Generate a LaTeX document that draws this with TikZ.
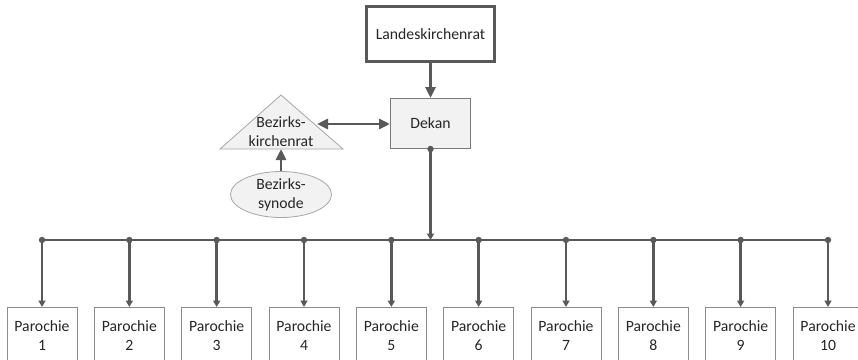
\documentclass[tikz,border=0pt]{standalone}
\usepackage{fontspec}
\setmainfont{Carlito}
\usetikzlibrary{arrows.meta,shapes.geometric}
\definecolor{linegray}{HTML}{595959}
\definecolor{shadegray}{HTML}{F2F2F2}
\definecolor{rimgray}{HTML}{A6A6A6}
\definecolor{boxgray}{HTML}{8C8C8C}
\begin{document}
\begin{tikzpicture}[
            x=1pt, y=-1pt,
            every node/.style={font=\fontsize{15.7}{19}\selectfont, align=center, inner sep=0pt, text=black!85},
            topbox/.style={draw=linegray, line width=2.4pt, fill=white, minimum width=128pt, minimum height=55pt},
            dekanbox/.style={draw=linegray!80, line width=1pt, fill=shadegray, minimum width=80pt, minimum height=50pt},
            synbox/.style={ellipse, draw=rimgray, line width=0.8pt, fill=shadegray, minimum width=101pt, minimum height=46pt},
            parbox/.style={draw=boxgray, line width=0.8pt, fill=white, minimum width=70pt, minimum height=56pt, anchor=north},
            conn/.style={draw=linegray, line width=2.9pt},
            bigarr/.style={conn, -{Triangle[length=11pt,width=10pt]}},
            smallarr/.style={conn, -{Triangle[length=6.5pt,width=7pt]}}
            ]
            \useasboundingbox (0,0) rectangle (858,359);
            \node[topbox] (landes) at (430.5,34) {Landeskirchenrat};
            \node[dekanbox] (dekan) at (430.5,123.5) {Dekan};
            \draw[draw=rimgray, line width=0.8pt, fill=shadegray] (220,149) -- (281,95) -- (343,149) -- cycle;
            \node (bzk) at (281,132) {Bezirks-\\kirchenrat};
            \coordinate (bzkright) at (317,124);
            \coordinate (bzkbase) at (281,149);
            \node[synbox] (synode) at (281,194.5) {Bezirks-\\synode};
            \draw[bigarr] (landes) -- (dekan);
            \draw[bigarr, {Triangle[length=11pt,width=10pt]}-{Triangle[length=11pt,width=10pt]}] (bzkright) -- (dekan.west |- bzkright);
            \draw[bigarr] (synode) -- (bzkbase);
            \foreach \i in {1,...,10} {
              \node[parbox] (p\i) at ({42+87.333*(\i-1)},307) {Parochie\\\i};
              \coordinate (d\i) at ({42+87.333*(\i-1)},240);
              \draw[smallarr] (d\i) -- (p\i.north);
              \fill[linegray] (d\i) circle (3.2pt);
            }
            \draw[conn] (d1) -- (d10);
            \draw[smallarr] (dekan.south) -- (dekan.south |- d1);
            \fill[linegray] (dekan.south) circle (3.2pt);
\end{tikzpicture}
\end{document}
